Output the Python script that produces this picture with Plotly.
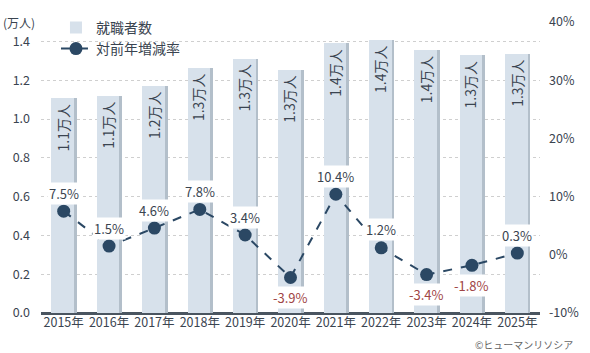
import plotly.graph_objects as go

years = ["2015年", "2016年", "2017年", "2018年", "2019年", "2020年", "2021年", "2022年", "2023年", "2024年", "2025年"]
employed = [1.107, 1.117, 1.17, 1.264, 1.31, 1.254, 1.39, 1.406, 1.355, 1.33, 1.335]
employed_labels = ["1.1万人", "1.1万人", "1.2万人", "1.3万人", "1.3万人", "1.3万人", "1.4万人", "1.4万人", "1.4万人", "1.3万人", "1.3万人"]
growth = [7.5, 1.5, 4.6, 7.8, 3.4, -3.9, 10.4, 1.2, -3.4, -1.8, 0.3]
growth_labels = ["7.5%", "1.5%", "4.6%", "7.8%", "3.4%", "-3.9%", "10.4%", "1.2%", "-3.4%", "-1.8%", "0.3%"]
rate_ticks = [-10, 0, 10, 20, 30, 40]
rate_tick_text = ["-10%", "0%", "10%", "20%", "30%", "40%"]

FONT = "Noto Sans CJK JP"
TXT = "#3a4450"
NAVY = "#2b4864"
RED = "#a04545"

xs = list(range(len(years)))

fig = go.Figure()
# shadow
fig.add_trace(go.Bar(x=xs, y=employed, width=0.1, offset=0.19, marker_color="#b3bfca",
                     marker_line_width=0, showlegend=False, hoverinfo="skip"))
fig.add_trace(go.Bar(x=xs, y=employed, width=0.5, offset=-0.27, marker_color="#d7e1eb",
                     marker_line_width=0, name="就職者数"))
fig.add_trace(go.Scatter(x=xs, y=growth, yaxis="y2", mode="lines+markers", name="対前年増減率",
                         line=dict(color=NAVY, width=2, dash="dash"),
                         marker=dict(color=NAVY, size=13)))

for i, (v, lab) in enumerate(zip(employed, employed_labels)):
    fig.add_annotation(x=xs[i], y=v, xref="x", yref="y", text=lab, showarrow=False, textangle=-90,
                       xanchor="center", yanchor="top", yshift=-4, xshift=-1,
                       font=dict(family=FONT, size=14, color=TXT))

for i, (g, lab) in enumerate(zip(growth, growth_labels)):
    neg = g < 0
    fig.add_annotation(x=xs[i], y=g, yref="y2", xref="x", text=lab, showarrow=False,
                       yshift=-20 if neg else 18, bgcolor="white", borderpad=1,
                       font=dict(family=FONT, size=13, color=RED if neg else TXT))

fig.add_annotation(x=-0.045, y=1.0, xref="paper", yref="paper", text="(万人)", showarrow=False,
                   xanchor="center", yanchor="middle", font=dict(family=FONT, size=12, color=TXT))
fig.add_annotation(x=1.07, y=-0.108, xref="paper", yref="paper", text="©ヒューマンリソシア", showarrow=False,
                   xanchor="right", yanchor="middle", font=dict(family=FONT, size=10, color="#666"))

fig.update_layout(
    width=590, height=353, margin=dict(l=41, r=50, t=18, b=40),
    paper_bgcolor="white", plot_bgcolor="white",
    barmode="overlay", bargap=0,
    font=dict(family=FONT, size=12, color=TXT),
    showlegend=True,
    legend=dict(x=0.03, y=1.035, xanchor="left", yanchor="top", bgcolor="rgba(0,0,0,0)",
                font=dict(family=FONT, size=14, color=TXT), tracegroupgap=0),
    xaxis=dict(range=[-0.5, 10.5], tickvals=xs, ticktext=years, showgrid=False,
               showline=False, zeroline=False, ticks="", tickfont=dict(size=12.5, color=TXT)),
    yaxis=dict(range=[0, 1.5], tickvals=[0, 0.2, 0.4, 0.6, 0.8, 1.0, 1.2, 1.4], tickformat=".1f",
               showgrid=True, gridcolor="#cfcfcf", griddash="3px,3px", gridwidth=1,
               zeroline=True, zerolinecolor="#4a5560", zerolinewidth=2.5,
               showline=False, ticks="", ticklabelstandoff=10, tickfont=dict(size=12.5, color=TXT)),
    yaxis2=dict(range=[-10, 40], tickvals=rate_ticks, ticktext=rate_tick_text,
                overlaying="y", side="right", showgrid=False, zeroline=False, showline=False,
                ticks="", ticklabelstandoff=8, tickfont=dict(size=12.5, color=TXT)),
)

fig.write_html("out.html")
